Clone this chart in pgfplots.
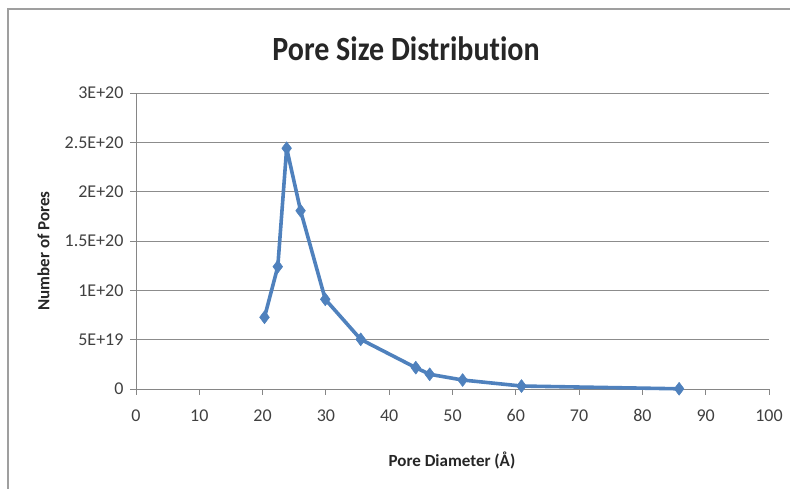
\documentclass[border=0pt]{standalone}
\usepackage{fontspec}
\setmainfont{Carlito}[Ligatures=NoCommon]
\usepackage{graphicx}
\usepackage{pgfplots}
\pgfplotsset{compat=1.18}

\definecolor{xlblue}{HTML}{4F81BD}
\definecolor{gridgray}{HTML}{8C8C8C}
\definecolor{axisgray}{HTML}{868686}
\definecolor{textgray}{HTML}{404040}

\begin{document}
\begin{tikzpicture}[x=1pt,y=1pt]
\useasboundingbox (0,0) rectangle (790,489);
% chart area frame (top and left edges)
\draw[color=gray!75, line width=1.6pt] (8,0) -- (8,480) -- (790,480);

\begin{axis}[
  at={(136pt,100pt)}, anchor=south west,
  scale only axis,
  width=633pt, height=296pt,
  xmin=0, xmax=100, ymin=0, ymax=3e20,
  xtick={0,10,...,100},
  ytick={0,0.5e20,1e20,1.5e20,2e20,2.5e20,3e20},
  yticklabels={0,5E+19,1E+20,1.5E+20,2E+20,2.5E+20,3E+20},
  scaled y ticks=false,
  axis lines=left,
  axis line style={-, color=axisgray, line width=0.9pt},
  tick style={color=axisgray, line width=0.9pt},
  tick align=outside,
  major tick length=6pt,
  ymajorgrids,
  grid style={color=gridgray, line width=0.9pt},
  /pgf/number format/assume math mode=true,
  ticklabel style={font=\fontsize{18}{20}\selectfont, color=textgray},
  xticklabel style={yshift=-11pt},
  yticklabel style={xshift=-3pt},
  clip=false,
]
\addplot[color=xlblue, line width=3.6pt, line join=round,
  mark=diamond*, mark size=6.5pt,
  mark options={fill=xlblue, draw=xlblue, line width=0.5pt}]
  coordinates {
    (20.3, 0.727e20)
    (22.4, 1.24e20)
    (23.8, 2.44e20)
    (26.0, 1.807e20)
    (29.9, 0.909e20)
    (35.5, 0.503e20)
    (44.2, 0.216e20)
    (46.4, 0.149e20)
    (51.6, 0.091e20)
    (60.9, 0.030e20)
    (85.8, 0.002e20)
  };
\end{axis}

% titles
\node[color=black!85] at (406,440)
  {\scalebox{1}[1.13]{\fontsize{30}{34}\selectfont\bfseries Pore Size Distribution}};
\node[color=black!85] at (452,29)
  {\fontsize{17}{20}\selectfont\bfseries Pore Diameter (Å)};
\node[color=black!85, rotate=90] at (43.5,238)
  {\fontsize{17}{20}\selectfont\bfseries Number of Pores};
\end{tikzpicture}
\end{document}
